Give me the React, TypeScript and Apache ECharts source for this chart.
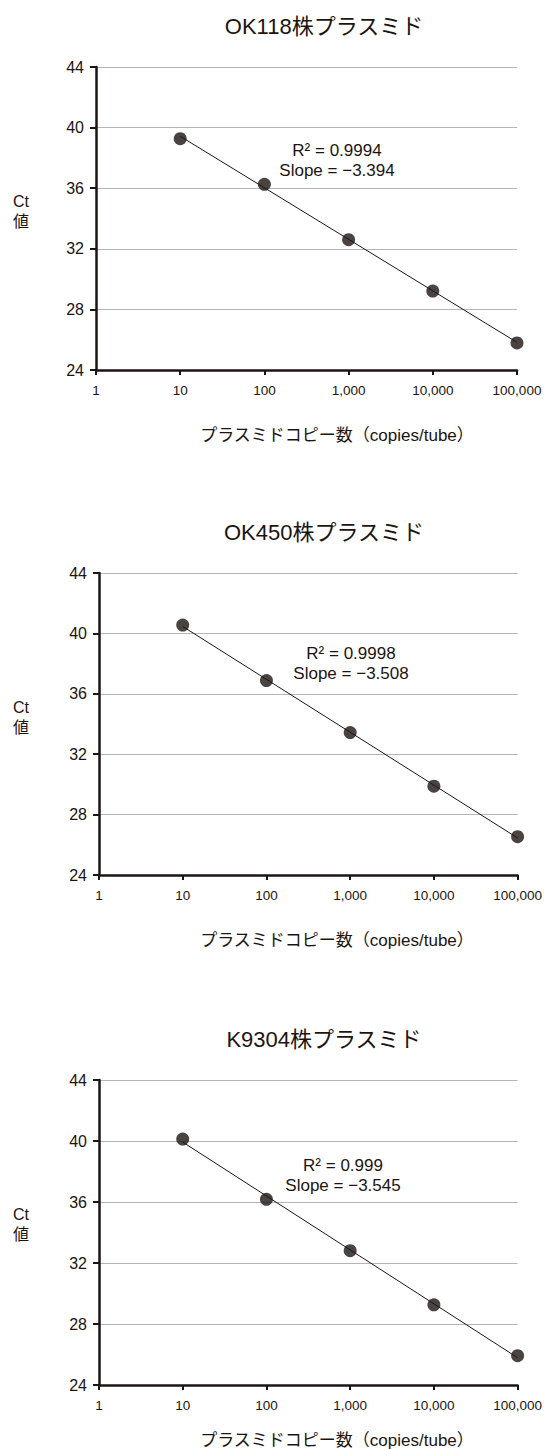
import React, { useEffect, useRef } from "react";
import * as echarts from "echarts";

const copies = [10, 100, 1000, 10000, 100000];
const titles = ["OK118株プラスミド", "OK450株プラスミド", "K9304株プラスミド"];
const ctOK118 = [39.27, 36.26, 32.6, 29.21, 25.79];
const ctOK450 = [40.55, 36.88, 33.43, 29.88, 26.54];
const ctK9304 = [40.13, 36.18, 32.81, 29.26, 25.92];
const ctSets = [ctOK118, ctOK450, ctK9304];
const r2Labels = ["0.9994", "0.9998", "0.999"];
const slopeLabels = ["−3.394", "−3.508", "−3.545"];
const xAxisTitle = "プラスミドコピー数（copies/tube）";
const yAxisTitle = "Ct\n値";
const yMin = 24;
const yMax = 44;
const yStep = 4;
const xMin = 1;
const xMax = 100000;

const FONT = "'Liberation Sans', 'Noto Sans CJK JP', sans-serif";
const INK = "#1c1412";

function fit(xs: number[], ys: number[]) {
  const lx = xs.map((v) => Math.log10(v));
  const n = lx.length;
  const mx = lx.reduce((a, b) => a + b, 0) / n;
  const my = ys.reduce((a, b) => a + b, 0) / n;
  let sxy = 0;
  let sxx = 0;
  for (let i = 0; i < n; i++) {
    sxy += (lx[i] - mx) * (ys[i] - my);
    sxx += (lx[i] - mx) * (lx[i] - mx);
  }
  const b = sxy / sxx;
  const a = my - b * mx;
  return (x: number) => a + b * Math.log10(x);
}

export default function App() {
  const ref = useRef<HTMLDivElement>(null);
  useEffect(() => {
    if (!ref.current) return;
    const chart = echarts.init(ref.current, undefined, { renderer: "svg" });
    const boxes = [
      { left: 96, top: 67, width: 421, height: 303 },
      { left: 99, top: 573, width: 420, height: 302 },
      { left: 99, top: 1080, width: 420, height: 305 },
    ];
    const annoPos = [
      { x: 337, dy: 93 },
      { x: 351, dy: 90 },
      { x: 343, dy: 95 },
    ];

    const grids = boxes.map((b) => ({ ...b }));
    const xAxes = boxes.map((_, i) => ({
      type: "log",
      logBase: 10,
      gridIndex: i,
      min: xMin,
      max: xMax,
      splitLine: { show: false },
      axisLine: { show: true, lineStyle: { color: INK, width: 2.5 } },
      axisTick: { show: true, length: 5, lineStyle: { color: INK, width: 2 } },
      minorTick: { show: false },
      axisLabel: {
        color: INK,
        fontSize: 13.5,
        fontFamily: FONT,
        margin: 14,
        formatter: (v: number) => Math.round(v).toLocaleString("en-US"),
      },
    }));
    const yAxes = boxes.map((_, i) => ({
      type: "value",
      gridIndex: i,
      min: yMin,
      max: yMax,
      interval: yStep,
      axisLine: { show: true, lineStyle: { color: INK, width: 2.5 } },
      axisTick: { show: true, length: 6, lineStyle: { color: INK, width: 2 } },
      splitLine: { show: true, lineStyle: { color: "#b5b5b5", width: 1 } },
      axisLabel: { color: INK, fontSize: 16, fontFamily: FONT, margin: 12 },
    }));

    const series: any[] = [];
    ctSets.forEach((ys, i) => {
      const f = fit(copies, ys);
      series.push({
        type: "line",
        xAxisIndex: i,
        yAxisIndex: i,
        data: [
          [copies[0], f(copies[0])],
          [copies[copies.length - 1], f(copies[copies.length - 1])],
        ],
        symbol: "none",
        lineStyle: { color: INK, width: 1 },
        silent: true,
        z: 2,
      });
      series.push({
        type: "scatter",
        xAxisIndex: i,
        yAxisIndex: i,
        data: copies.map((c, j) => [c, ys[j]]),
        symbol: "circle",
        symbolSize: 13,
        itemStyle: { color: INK },
        z: 3,
      });
    });

    const graphic: any[] = [];
    boxes.forEach((b, i) => {
      const t = b.top;
      const bottom = b.top + b.height;
      graphic.push({
        type: "text",
        x: 324,
        y: t - 41,
        style: {
          text: titles[i],
          fill: INK,
          font: `22px ${FONT}`,
          textAlign: "center",
          textVerticalAlign: "middle",
        },
      });
      graphic.push({
        type: "text",
        x: annoPos[i].x,
        y: t + annoPos[i].dy,
        style: {
          text: `R² = ${r2Labels[i]}\nSlope = ${slopeLabels[i]}`,
          fill: INK,
          font: `17px ${FONT}`,
          lineHeight: 20,
          textAlign: "center",
          textVerticalAlign: "middle",
        },
      });
      graphic.push({
        type: "text",
        x: 21,
        y: t + 144,
        style: {
          text: yAxisTitle,
          fill: INK,
          font: `16px ${FONT}`,
          lineHeight: 20,
          textAlign: "center",
          textVerticalAlign: "middle",
        },
      });
      graphic.push({
        type: "text",
        x: 337,
        y: Math.min(bottom + 65, 1440),
        style: {
          text: xAxisTitle,
          fill: INK,
          font: `17px ${FONT}`,
          textAlign: "center",
          textVerticalAlign: "middle",
        },
      });
    });

    chart.setOption({
      animation: false,
      backgroundColor: "#ffffff",
      grid: grids,
      xAxis: xAxes,
      yAxis: yAxes,
      series,
      graphic,
    });
    return () => chart.dispose();
  }, []);
  return (
    <div
      ref={ref}
      style={{ position: "absolute", left: 0, top: 0, width: 545, height: 1449 }}
    />
  );
}
